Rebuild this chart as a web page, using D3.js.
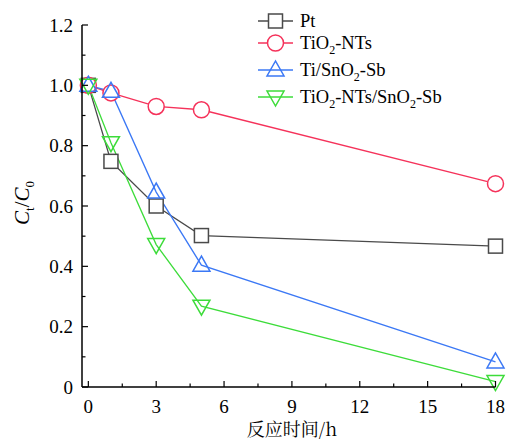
<!DOCTYPE html>
<html>
<head>
<meta charset="utf-8">
<script src="https://cdn.jsdelivr.net/npm/d3@7"></script>
<style>
  body { margin: 0; background: #fff; }
</style>
</head>
<body>
<div id="chart"></div>
<script>
// reaction time (h)
var hours = [0, 1, 3, 5, 18];
var ptValues = [1.0, 0.748, 0.60, 0.502, 0.467];
var tio2Values = [1.0, 0.975, 0.930, 0.919, 0.674];
var snValues = [1.0, 0.980, 0.646, 0.404, 0.083];
var tio2SnValues = [1.0, 0.810, 0.472, 0.268, 0.018];
var xTicks = [0, 3, 6, 9, 12, 15, 18];
var yTicks = [0, 0.2, 0.4, 0.6, 0.8, 1.0, 1.2];

var serif = '"Liberation Serif"';
var width = 511, height = 441;
var svg = d3.select('#chart').append('svg')
    .attr('width', width)
    .attr('height', height);

var x = d3.scaleLinear().domain([-0.28, 18]).range([82, 495.5]);
var y = d3.scaleLinear().domain([0, 1.2]).range([387, 25]);

var series = [
    { name: 'Pt', values: ptValues, color: '#4a4a4a', shape: 'square' },
    { name: 'TiO2-NTs', values: tio2Values, color: '#f5325a', shape: 'circle' },
    { name: 'Ti/SnO2-Sb', values: snValues, color: '#3b78f5', shape: 'up' },
    { name: 'TiO2-NTs/SnO2-Sb', values: tio2SnValues, color: '#3ddc3a', shape: 'down' }
];

function drawMarker(g, shape, cx, cy, color) {
    if (shape == 'square') {
        g.append('rect').attr('x', cx - 7).attr('y', cy - 7)
            .attr('width', 14).attr('height', 14)
            .style('fill', 'white').style('stroke', color).style('stroke-width', 1.5);
    } else if (shape == 'circle') {
        g.append('circle').attr('cx', cx).attr('cy', cy).attr('r', 8)
            .style('fill', 'white').style('stroke', color).style('stroke-width', 1.5);
    } else {
        var d = shape == 'up' ? -1 : 1;
        var pts = [[cx, cy + d * 9], [cx - 8.5, cy - d * 6], [cx + 8.5, cy - d * 6]];
        g.append('path').attr('d', 'M' + pts.join('L') + 'Z')
            .style('fill', 'none').style('stroke', color).style('stroke-width', 1.5);
    }
}

// lines + markers
series.forEach(function(s) {
    var line = d3.line()
        .x(function(d, i) { return x(hours[i]); })
        .y(function(d) { return y(d); });
    svg.append('path')
        .datum(s.values)
        .attr('d', line)
        .style('fill', 'none')
        .style('stroke', s.color)
        .style('stroke-width', 1.3);
});
series.forEach(function(s) {
    var g = svg.append('g');
    s.values.forEach(function(v, i) {
        drawMarker(g, s.shape, x(hours[i]), y(v), s.color);
    });
});

// axes
var xAxis = svg.append('g').attr('transform', 'translate(0,' + y(0) + ')');
xAxis.append('line').attr('x1', 82).attr('x2', x(18)).attr('y1', 0).attr('y2', 0)
    .style('stroke', '#000').style('stroke-width', 1.5);
d3.range(0, 18.1, 1.5).forEach(function(t) {
    var major = t % 3 == 0;
    xAxis.append('line').attr('x1', x(t)).attr('x2', x(t))
        .attr('y1', 0).attr('y2', major ? -6 : -3.5)
        .style('stroke', '#000').style('stroke-width', 1.2);
});
xAxis.selectAll('text.tick').data(xTicks).enter().append('text')
    .attr('x', function(d) { return x(d); })
    .attr('y', 26)
    .attr('text-anchor', 'middle')
    .style('font-family', serif)
    .style('font-size', '19px')
    .text(function(d) { return d; });

var yAxis = svg.append('g').attr('transform', 'translate(82,0)');
yAxis.append('line').attr('x1', 0).attr('x2', 0).attr('y1', y(0)).attr('y2', y(1.2))
    .style('stroke', '#000').style('stroke-width', 1.5);
d3.range(0, 1.21, 0.1).forEach(function(t) {
    var major = Math.round(t * 10) % 2 == 0;
    yAxis.append('line').attr('x1', 0).attr('x2', major ? 6 : 3.5)
        .attr('y1', y(t)).attr('y2', y(t))
        .style('stroke', '#000').style('stroke-width', 1.2);
});
yAxis.selectAll('text.tick').data(yTicks).enter().append('text')
    .attr('x', -9)
    .attr('y', function(d) { return y(d) + 6.5; })
    .attr('text-anchor', 'end')
    .style('font-family', serif)
    .style('font-size', '19px')
    .text(function(d) { return d == 0 ? '0' : d.toFixed(1); });

// axis titles
svg.append('text')
    .attr('x', 292).attr('y', 436)
    .attr('text-anchor', 'middle')
    .style('font-family', '"Noto Serif CJK SC", "Noto Sans CJK SC"')
    .style('font-size', '18px')
    .text('反应时间/h');

var yt = svg.append('text')
    .attr('transform', 'translate(29,203) rotate(-90)')
    .attr('text-anchor', 'middle')
    .style('font-family', serif)
    .style('font-size', '21px');
yt.append('tspan').style('font-style', 'italic').text('C');
yt.append('tspan').style('font-size', '13px').attr('dy', 5).text('t');
yt.append('tspan').attr('dy', -5).text('/');
yt.append('tspan').style('font-style', 'italic').text('C');
yt.append('tspan').style('font-size', '13px').attr('dy', 5).text('0');

// legend: pieces of each label, subscript pieces marked
var legendY = [21, 43, 70, 97];
var labels = [
    [['Pt']],
    [['TiO'], ['2', 'sub'], ['-NTs']],
    [['Ti/SnO'], ['2', 'sub'], ['-Sb']],
    [['TiO'], ['2', 'sub'], ['-NTs/SnO'], ['2', 'sub'], ['-Sb']]
];
series.forEach(function(s, i) {
    var g = svg.append('g');
    g.append('line').attr('x1', 258).attr('x2', 293)
        .attr('y1', legendY[i]).attr('y2', legendY[i])
        .style('stroke', s.color).style('stroke-width', 1.3);
    drawMarker(g, s.shape, 275.5, legendY[i], s.color);
    var t = g.append('text').attr('x', 300).attr('y', legendY[i] + 6)
        .style('font-family', serif)
        .style('font-size', '18.5px');
    var prevSub = false;
    labels[i].forEach(function(p) {
        var sub = p[1] == 'sub';
        var ts = t.append('tspan').text(p[0]);
        if (sub) ts.style('font-size', '12px').attr('dy', 5);
        else if (prevSub) ts.attr('dy', -5);
        prevSub = sub;
    });
});
</script>
</body>
</html>
